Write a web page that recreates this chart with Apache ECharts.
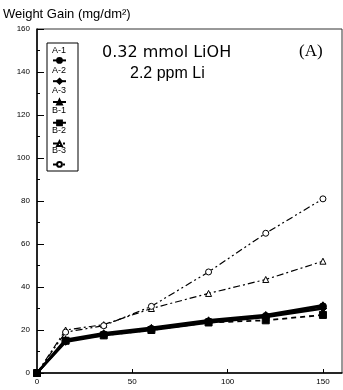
<!DOCTYPE html>
<html>
<head>
<meta charset="utf-8">
<script src="https://cdn.jsdelivr.net/npm/echarts@6/dist/echarts.min.js"></script>
<style>
  html, body { margin: 0; padding: 0; background: #fff; }
  #chart { width: 343px; height: 390px; }
</style>
</head>
<body>
<div id="chart"></div>
<script>
// exposure time (days) and weight gain (mg/dm2)
const days = [0, 15, 35, 60, 90, 120, 150];
const a1 = [0, 15, 18, 20.5, 24, 26.5, 31];
const a2 = [0, 14.5, 17.5, 20, 23.5, 26, 30];
const a3 = [0, 15.5, 18.5, 21, 24.5, 27, 31.5];
const b1 = [0, 15, 17.5, 20, 23.5, 24.5, 27];
const b2 = [0, 20, 22.5, 30, 37, 43.5, 52];
const b3 = [0, 19, 22, 31, 47, 65, 81];
const names = ["A-1", "A-2", "A-3", "B-1", "B-2", "B-3"];
const xTicks = [0, 50, 100, 150];
const yTicks = [0, 20, 40, 60, 80, 100, 120, 140, 160];

const pairs = (ys) => days.map((d, i) => [d, ys[i]]);

const mk = (name, ys, symbol, open, lineType, width) => ({
  name: name,
  type: "line",
  data: pairs(ys),
  symbol: symbol,
  symbolSize: open ? 6 : 7,
  itemStyle: {
    color: open ? "#fff" : "#000",
    borderColor: "#000",
    borderWidth: 1
  },
  lineStyle: { color: "#000", width: width, type: lineType },
  emphasis: { disabled: true },
  z: open ? 3 : 4
});

// legend names sit above their icons, like in the original key box
const keyNames = names.map((n, i) => ({
  type: "text",
  left: 52, top: 46 + i * 20,
  z: 10,
  style: { text: n, fontSize: 9, fill: "#000",
            fontFamily: "Liberation Sans, Arial, sans-serif" }
}));

const chart = echarts.init(document.getElementById("chart"));
chart.setOption({
  backgroundColor: "#fff",
  animation: false,
  textStyle: { fontFamily: "Liberation Sans, Arial, sans-serif", color: "#000" },
  grid: {
    left: 37, right: 1, top: 29, bottom: 17,
    show: true, borderColor: "#333", borderWidth: 1
  },
  title: {
    text: "Weight Gain (mg/dm²)",
    left: 3, top: 8,
    padding: 0,
    textStyle: { fontSize: 13, fontWeight: "normal", color: "#000" }
  },
  legend: {
    orient: "vertical",
    left: 52, top: 57,
    padding: 0,
    itemWidth: 13, itemHeight: 6,
    itemGap: 14,
    formatter: () => "",
    data: names
  },
  graphic: [
    {
      type: "rect",
      shape: { x: 47, y: 43, width: 31, height: 128 },
      style: { fill: "#fff", stroke: "#000", lineWidth: 1 },
      z: 1
    },
    ...keyNames,
    {
      type: "text",
      left: 102, top: 45,
      style: { text: "0.32 mmol LiOH", fontSize: 16, fill: "#000",
                fontFamily: "DejaVu Sans, sans-serif" }
    },
    {
      type: "text",
      left: 130, top: 66,
      style: { text: "2.2 ppm Li", fontSize: 16, fill: "#000",
                fontFamily: "Liberation Sans, Arial, sans-serif" }
    },
    {
      type: "text",
      left: 299, top: 43,
      style: { text: "(A)", fontSize: 17, fill: "#000",
                fontFamily: "Liberation Serif, Times New Roman, serif" }
    }
  ],
  xAxis: {
    type: "value",
    min: 0, max: 160, interval: 50,
    splitLine: { show: false },
    axisLine: { lineStyle: { color: "#000", width: 1.5 } },
    axisTick: { inside: true, length: 4, lineStyle: { color: "#000" } },
    axisLabel: {
      showMaxLabel: false, fontSize: 8, color: "#000", margin: 5,
      formatter: (v) => (xTicks.includes(v) ? String(v) : "")
    }
  },
  yAxis: {
    type: "value",
    min: 0, max: 160, interval: 20,
    splitLine: { show: false },
    axisLine: { lineStyle: { color: "#000", width: 1.5 } },
    axisTick: { inside: true, length: 7, lineStyle: { color: "#000" } },
    minorTick: { show: true, splitNumber: 2, length: 3, lineStyle: { color: "#000" } },
    axisLabel: {
      fontSize: 8, color: "#000", margin: 7,
      formatter: (v) => (yTicks.includes(v) ? String(v) : "")
    }
  },
  series: [
    mk("A-1", a1, "circle", false, "solid", 2.5),
    mk("A-2", a2, "diamond", false, "solid", 2.5),
    mk("A-3", a3, "triangle", false, "solid", 2.5),
    mk("B-1", b1, "rect", false, [5, 4], 1.8),
    mk("B-2", b2, "triangle", true, [7, 3, 2, 3], 1.2),
    mk("B-3", b3, "circle", true, [7, 3, 2, 3, 2, 3], 1.2)
  ]
});
</script>
</body>
</html>
